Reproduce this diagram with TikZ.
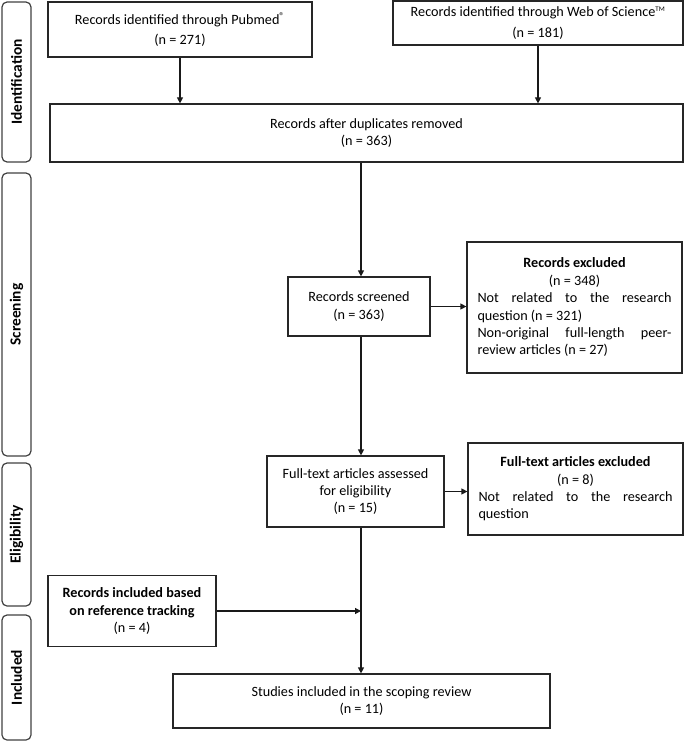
\documentclass[tikz,border=0pt]{standalone}
\usepackage{fontspec}
\setmainfont{Carlito}
\usetikzlibrary{arrows.meta}
\newcommand\fnorm{\fontsize{14.2}{17.4}\selectfont}
\newcommand\flab{\fontsize{15.4}{18}\selectfont\bfseries}
\newcommand\ctrline[1]{\hspace*{\fill}#1\hspace*{\fill}\\}
\begin{document}
\begin{tikzpicture}[x=1pt,y=-1pt,
  box/.style={draw=black!85, line width=1.2pt, align=center, font=\fnorm, inner sep=0pt},
  jbox/.style={draw=black!85, line width=1.2pt, align=justify, font=\fnorm, inner xsep=10.5pt, inner ysep=0pt, text width=194pt},
  phase/.style={draw=black!75, line width=1.2pt, rounded corners=5pt, rotate=90, font=\flab, inner sep=0pt, minimum height=29pt},
  arr/.style={draw=black!90, line width=1.2pt, -{Triangle[length=6pt,width=6pt]}}]
\useasboundingbox (0,0) rectangle (685,741);
% phase labels
\node[phase, minimum width=160pt] (pid) at (16.5,82) {Identification};
\node[phase, minimum width=283pt] (pscr) at (16.5,314.5) {Screening};
\node[phase, minimum width=143pt] (pel) at (16.5,534.5) {Eligibility};
\node[phase, minimum width=125pt] (pinc) at (16.5,677.5) {Included};
% boxes
\node[box, minimum width=264pt, minimum height=55pt] (pub) at (180,29.5)
  {Records identified through Pubmed\textsuperscript{®}\\[3pt](n = 271)};
\node[box, minimum width=290pt, minimum height=44pt] (wos) at (538,23)
  {Records identified through Web of Science\textsuperscript{\scriptsize TM}\\[3pt](n = 181)};
\node[box, minimum width=633pt, minimum height=58pt] (dup) at (366.5,133)
  {Records after duplicates removed\\(n = 363)};
\node[box, minimum width=142pt, minimum height=59pt] (scr) at (359,306.5)
  {Records screened\\(n = 363)};
\node[jbox, minimum height=131pt] (rex) at (574.5,307.5)
  {\ctrline{\textbf{Records excluded}}\ctrline{(n = 348)}Not related to the research\linebreak question (n = 321)\\Non-original full-length peer-\linebreak review articles (n = 27)};
\node[box, minimum width=177pt, minimum height=71pt] (ft) at (355.5,491.5)
  {Full-text articles assessed\\for eligibility\\(n = 15)};
\node[jbox, minimum height=92pt] (fex) at (575.5,489)
  {\ctrline{\textbf{Full-text articles excluded}}\ctrline{(n = 8)}Not related to the research\linebreak question};
\node[box, minimum width=168pt, minimum height=71pt] (ref) at (132,611)
  {\textbf{Records included based}\\\textbf{on reference tracking}\\(n = 4)};
\node[box, minimum width=377pt, minimum height=54pt] (stu) at (361.5,701)
  {Studies included in the scoping review\\(n = 11)};
% spine
\coordinate (sp) at (361,0);
% connectors
\draw[arr] (pub.south) -- (pub.south |- dup.north);
\draw[arr] (wos.south) -- (wos.south |- dup.north);
\draw[arr] (dup.south -| sp) -- (scr.north -| sp);
\draw[arr] (scr.east) -- (scr.east -| rex.west);
\draw[arr] (scr.south -| sp) -- (ft.north -| sp);
\draw[arr] (ft.east) -- (ft.east -| fex.west);
\draw[arr] (ft.south -| sp) -- (stu.north -| sp);
\draw[arr] (ref.east) -- (ref.east -| sp);
\end{tikzpicture}
\end{document}
